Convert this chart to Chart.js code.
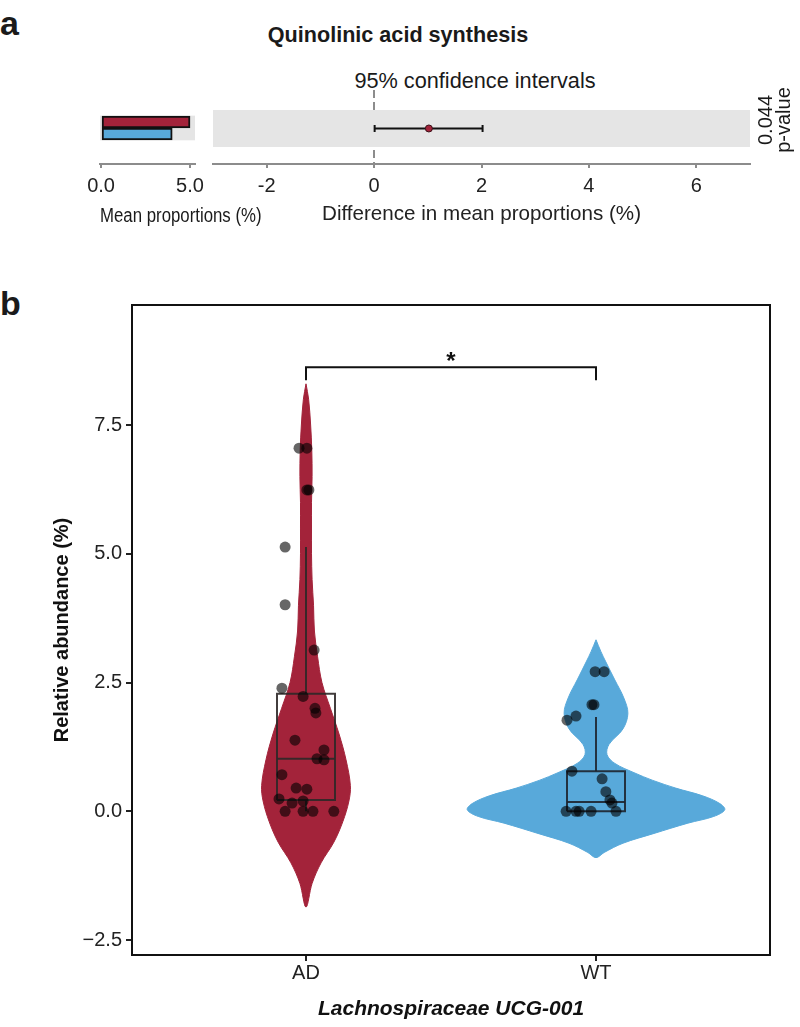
<!DOCTYPE html>
<html lang="en">

<head>
    <meta charset="UTF-8">
    <title>Quinolinic acid synthesis / Lachnospiraceae UCG-001</title>
    <script src="https://cdn.jsdelivr.net/npm/chart.js"></script>
    <style>
        body {
            margin: 0;
            background: #fff;
            font-family: 'Liberation Sans', Arial, sans-serif;
            color: #1a1a1a;
        }

        #page {
            position: relative;
            width: 800px;
            height: 1027px;
            overflow: hidden;
        }

        #page canvas,
        #page .txt {
            position: absolute;
        }

        .tag {
            font-size: 34px;
            font-weight: bold;
            line-height: 34px;
        }

        .pval {
            left: 739px;
            top: 102px;
            width: 70px;
            height: 36px;
            font-size: 20px;
            line-height: 18px;
            text-align: center;
            transform: rotate(-90deg);
        }
    </style>
</head>

<body>
    <div id="page">
        <div class="txt tag" style="left:0;top:6px">a</div>
        <div class="txt" style="left:0;width:796px;top:24px;text-align:center;font-size:21.6px;line-height:21px;font-weight:bold">Quinolinic acid synthesis</div>
        <div class="txt" style="left:275px;width:400px;top:70px;text-align:center;font-size:21.7px;line-height:21px">95% confidence intervals</div>
        <canvas id="means" width="300" height="170" style="left:0;top:60px"></canvas>
        <canvas id="diff" width="600" height="170" style="left:200px;top:60px"></canvas>
        <div class="txt" style="left:100px;top:204px;font-size:20px;line-height:22px;white-space:nowrap;transform:scaleX(0.84);transform-origin:left center">Mean proportions (%)</div>
        <div class="txt pval" id="pval"></div>
        <div class="txt tag" style="left:0;top:286px">b</div>
        <canvas id="violin" width="800" height="747" style="left:0;top:280px"></canvas>
    </div>

    <script>
        // ---- panel a: extended error bar ----
        const groups = ['AD', 'WT'];
        const meanProportions = [5.0, 4.0];      // AD, WT
        const meanTicks = [0, 5];
        const diffTicks = [-2, 0, 2, 4, 6];
        const diffMean = 1.02;
        const diffCI = [0.01, 2.02];
        const pValue = '0.044';

        // ---- panel b: violin + box + jitter ----
        const yTicks = [-2.5, 0, 2.5, 5, 7.5];
        const adValues = [7.05, 7.05, 6.24, 6.24, 5.13, 4.01, 3.13, 2.39, 2.23, 2.00, 1.91, 1.38, 1.19,
            1.02, 1.00, 0.71, 0.45, 0.43, 0.24, 0.20, 0.16, 0, 0, 0, 0];
        const adJitter = [-0.024, 0.003, 0.003, 0.010, -0.072, -0.072, 0.028, -0.083, -0.010, 0.031, 0.034, -0.038, 0.062,
            0.038, 0.062, -0.083, -0.034, 0.003, -0.093, -0.010, -0.048, -0.072, -0.010, 0.024, 0.096];
        const wtValues = [2.71, 2.71, 2.07, 2.07, 1.85, 1.77, 0.78, 0.63, 0.38, 0.22, 0.16, 0, 0, 0, 0, 0];
        const wtJitter = [-0.003, 0.028, -0.014, -0.007, -0.069, -0.100, -0.083, 0.021, 0.034, 0.048, 0.055,
            -0.103, -0.069, -0.058, -0.017, 0.069];
        // lower whisker, q1, median, q3, upper whisker
        const adBox = [0, 0.22, 1.02, 2.28, 5.13];
        const wtBox = [0, 0, 0.18, 0.78, 1.83];
        // violin outline: value and half width (x units)
        const adViolinY = [8.3, 8.0, 7.5, 7.0, 6.5, 6.0, 5.5, 5.0, 4.5, 4.0, 3.5, 3.0, 2.5, 2.0, 1.5, 1.0, 0.5, 0.2,
            -0.2, -0.6, -1.0, -1.4, -1.86];
        const adViolinWidth = [0, 0.009, 0.016, 0.020, 0.021, 0.019, 0.019, 0.019, 0.021, 0.026, 0.029, 0.040, 0.055,
            0.084, 0.114, 0.138, 0.153, 0.148, 0.127, 0.096, 0.052, 0.021, 0];
        const wtViolinY = [3.33, 3.1, 2.9, 2.55, 2.2, 1.9, 1.6, 1.3, 1.1, 0.93, 0.75, 0.6, 0.45, 0.3, 0.15, 0.03,
            -0.1, -0.23, -0.43, -0.62, -0.8, -0.9];
        const wtViolinWidth = [0, 0.017, 0.034, 0.065, 0.096, 0.110, 0.093, 0.045, 0.038, 0.065, 0.131, 0.196, 0.275,
            0.368, 0.427, 0.444, 0.406, 0.317, 0.200, 0.093, 0.028, 0];
        const bracketY = [8.37, 8.62];
        const sigLabel = '*';

        const red = '#A3233A';
        const blue = '#58A9DA';
        const axisGray = '#8c8c8c';

        Chart.defaults.font.family = "'Liberation Sans', Arial, sans-serif";
        Chart.defaults.color = '#222';
        Chart.defaults.animation = false;
        Chart.defaults.plugins.legend.display = false;
        Chart.defaults.plugins.tooltip.enabled = false;

        document.getElementById('pval').innerHTML = pValue + '<br>p-value';

        // grey row band behind the bars / interval
        const band = {
            id: 'band',
            beforeDatasetsDraw(chart) {
                const { ctx, chartArea, scales: { y } } = chart;
                const top = y.getPixelForValue(1);
                const bottom = y.getPixelForValue(-1);
                ctx.save();
                ctx.fillStyle = '#E5E5E5';
                ctx.fillRect(chartArea.left, top, chartArea.right - chartArea.left, bottom - top);
                ctx.restore();
            }
        };

        const rowScale = { type: 'linear', display: false, min: -1.92, max: 2.08 };

        new Chart(document.getElementById('means'), {
            type: 'bar',
            data: {
                datasets: groups.map((g, i) => ({
                    label: g,
                    data: [{ x: meanProportions[i], y: 0 }],
                    backgroundColor: i === 0 ? red : blue,
                    borderColor: '#111',
                    borderWidth: 2,
                    borderSkipped: false,
                    barThickness: 12
                }))
            },
            options: {
                responsive: false,
                indexAxis: 'y',
                layout: { padding: { left: 100, right: 105, top: 30 } },
                scales: {
                    x: {
                        type: 'linear',
                        min: -0.06,
                        max: 5.28,
                        afterBuildTicks: s => { s.ticks = meanTicks.map(v => ({ value: v })); },
                        afterFit: s => { s.height = 66; },
                        ticks: { font: { size: 20 }, padding: 6, callback: v => v.toFixed(1) },
                        grid: { drawOnChartArea: false, tickLength: 4, color: axisGray, lineWidth: 2 },
                        border: { color: axisGray, width: 2 }
                    },
                    y: rowScale
                }
            },
            plugins: [band]
        });

        new Chart(document.getElementById('diff'), {
            type: 'scatter',
            data: {
                datasets: [
                    {
                        data: [{ x: diffMean, y: 0 }],
                        pointRadius: 3.5,
                        pointBackgroundColor: red,
                        pointBorderColor: '#3b1219',
                        pointBorderWidth: 1,
                        order: 0
                    },
                    {
                        data: diffCI.map(x => ({ x, y: 0 })),
                        showLine: true,
                        borderColor: '#111',
                        borderWidth: 2,
                        pointStyle: 'line',
                        pointRotation: 90,
                        pointRadius: 3.5,
                        pointBorderColor: '#111',
                        pointBorderWidth: 2,
                        order: 1
                    }
                ]
            },
            options: {
                responsive: false,
                layout: { padding: { left: 13, right: 50, top: 30 } },
                scales: {
                    x: {
                        min: -3,
                        max: 7,
                        afterBuildTicks: s => { s.ticks = diffTicks.map(v => ({ value: v })); },
                        afterFit: s => { s.height = 66; },
                        ticks: { font: { size: 20 }, padding: 6, callback: v => String(v) },
                        grid: {
                            color: c => (c.tick && c.tick.value === 0 ? axisGray : 'transparent'),
                            lineWidth: 2,
                            tickColor: axisGray,
                            tickLength: 4
                        },
                        border: { color: axisGray, width: 2, dash: [8, 4] },
                        title: {
                            display: true,
                            text: 'Difference in mean proportions (%)',
                            font: { size: 20.6 },
                            padding: { top: 0, bottom: 3 }
                        }
                    },
                    y: rowScale
                }
            },
            plugins: [band]
        });

        // ---- panel b ----
        function violinOutline(center, ys, ws) {
            const right = ys.map((y, i) => ({ x: center + ws[i], y }));
            const left = ys.map((y, i) => ({ x: center - ws[i], y })).reverse();
            return right.concat(left.slice(1));
        }

        function boxLines(center, b, color) {
            const hw = 0.1;
            const segs = [
                [[center - hw, b[1]], [center + hw, b[1]], [center + hw, b[3]], [center - hw, b[3]], [center - hw, b[1]]],
                [[center - hw, b[2]], [center + hw, b[2]]],
                [[center, b[3]], [center, b[4]]],
                [[center, b[1]], [center, b[0]]]
            ];
            return segs.map(s => ({
                data: s.map(p => ({ x: p[0], y: p[1] })),
                showLine: true,
                borderColor: color,
                borderWidth: 2,
                pointRadius: 0,
                tension: 0,
                order: 2
            }));
        }

        const violinSets = [
            { center: 1, ys: adViolinY, ws: adViolinWidth, color: red },
            { center: 2, ys: wtViolinY, ws: wtViolinWidth, color: blue }
        ].map(v => ({
            data: violinOutline(v.center, v.ys, v.ws),
            showLine: true,
            fill: 'shape',
            backgroundColor: v.color,
            borderColor: v.color,
            borderWidth: 1,
            pointRadius: 0,
            tension: 0.35,
            order: 3
        }));

        const jitterSets = [
            { center: 1, vals: adValues, jit: adJitter },
            { center: 2, vals: wtValues, jit: wtJitter }
        ].map(g => ({
            data: g.vals.map((v, i) => ({ x: g.center + g.jit[i], y: v })),
            pointRadius: 5.5,
            pointBackgroundColor: 'rgba(0,0,0,0.6)',
            pointBorderWidth: 0,
            order: 1
        }));

        const bracket = {
            data: [{ x: 1, y: bracketY[0] }, { x: 1, y: bracketY[1] }, { x: 2, y: bracketY[1] }, { x: 2, y: bracketY[0] }],
            showLine: true,
            borderColor: '#111',
            borderWidth: 2,
            pointRadius: 0,
            order: 0
        };

        const frameAndLabel = {
            id: 'frameAndLabel',
            afterDatasetsDraw(chart) {
                const { ctx, chartArea: a, scales: { x, y } } = chart;
                ctx.save();
                ctx.strokeStyle = '#111';
                ctx.lineWidth = 2;
                ctx.strokeRect(a.left, a.top, a.right - a.left, a.bottom - a.top);
                ctx.fillStyle = '#111';
                ctx.font = "bold 24px 'Liberation Sans', Arial, sans-serif";
                ctx.textAlign = 'center';
                ctx.textBaseline = 'alphabetic';
                ctx.fillText(sigLabel, x.getPixelForValue(1.5), y.getPixelForValue(bracketY[1]) + 2);
                ctx.restore();
            }
        };

        new Chart(document.getElementById('violin'), {
            type: 'scatter',
            data: {
                datasets: [
                    bracket,
                    ...jitterSets,
                    ...boxLines(1, adBox, 'rgba(45,40,40,0.9)'),
                    ...boxLines(2, wtBox, 'rgba(30,35,45,0.9)'),
                    ...violinSets
                ]
            },
            options: {
                responsive: false,
                layout: { padding: { left: 0, right: 30, top: 25, bottom: 0 } },
                scales: {
                    x: {
                        min: 0.4,
                        max: 2.6,
                        afterBuildTicks: s => { s.ticks = groups.map((g, i) => ({ value: i + 1 })); },
                        afterFit: s => { s.height = 72; },
                        ticks: { font: { size: 20 }, padding: 0, callback: (v, i) => groups[i] },
                        grid: { drawOnChartArea: false, tickLength: 6, color: '#222', lineWidth: 2 },
                        border: { display: false },
                        title: {
                            display: true,
                            text: 'Lachnospiraceae UCG-001',
                            color: '#111',
                            font: { size: 21, weight: 'bold', style: 'italic' },
                            padding: { top: 0, bottom: 5 }
                        }
                    },
                    y: {
                        min: -2.79,
                        max: 9.83,
                        afterBuildTicks: s => { s.ticks = yTicks.map(v => ({ value: v })); },
                        afterFit: s => { s.width = 132; },
                        ticks: {
                            font: { size: 20 },
                            padding: 4,
                            callback: v => (v < 0 ? '\u2212' + Math.abs(v).toFixed(1) : v.toFixed(1))
                        },
                        grid: { drawOnChartArea: false, tickLength: 6, color: '#222', lineWidth: 2 },
                        border: { display: false },
                        title: {
                            display: true,
                            text: 'Relative abundance (%)',
                            color: '#111',
                            font: { size: 20, weight: 'bold' },
                            padding: { top: 50, bottom: 0 }
                        }
                    }
                }
            },
            plugins: [frameAndLabel]
        });
    </script>

</body>

</html>
